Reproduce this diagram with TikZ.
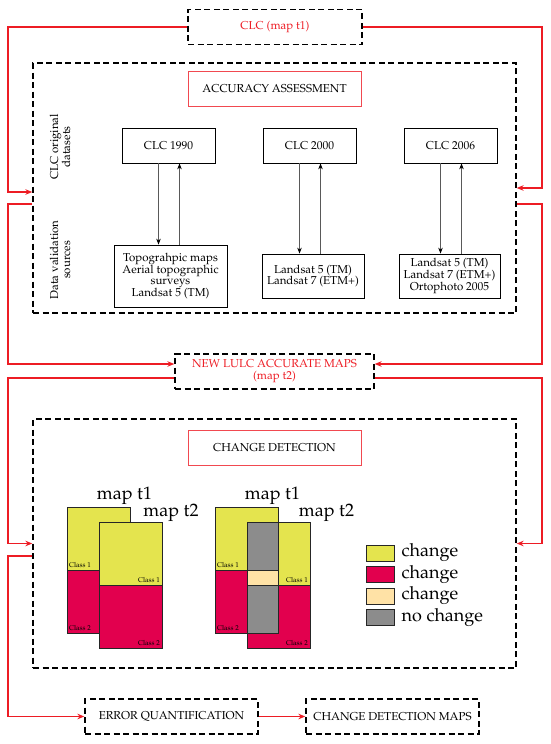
\documentclass[tikz,border=0pt]{standalone}
\usepackage[T1]{fontenc}
\usepackage{mathpazo}
\usepackage{tikz}
\usetikzlibrary{arrows.meta}
\definecolor{flowred}{RGB}{237,28,36}
\definecolor{mapyellow}{RGB}{228,228,78}
\definecolor{mapred}{RGB}{226,0,78}
\definecolor{mapbeige}{RGB}{255,226,166}
\definecolor{mapgray}{RGB}{140,140,140}

\begin{document}
\begin{tikzpicture}[x=1pt, y=-1pt, >={Stealth[length=7pt,width=5.5pt]},
  every node/.style={font=\fontsize{11.5}{12}\selectfont, inner sep=0pt},
  dbox/.style={draw, line width=1.3pt, dash pattern=on 6pt off 3.5pt, minimum height=35pt},
  rbox/.style={draw=flowred!80, line width=0.8pt, minimum width=173pt, minimum height=35pt},
  cbox/.style={draw, line width=0.7pt, minimum width=93pt, minimum height=35pt},
  vbox/.style={draw, line width=0.7pt, align=center, font=\fontsize{11.5}{11.7}\selectfont},
  flow/.style={flowred, line width=1.1pt},
  link/.style={black!65, line width=0.9pt, -{Stealth[black,length=6pt,width=4.5pt]}},
  mapline/.style={draw=black!85, line width=1pt},
  big/.style={font=\fontsize{18}{18}\selectfont},
  tiny/.style={font=\fontsize{7}{7}\selectfont}]
\useasboundingbox (0,0) rectangle (550,744);

\node[dbox, minimum width=174pt, text=flowred] (clc) at (275,27) {CLC (map t1)};
\node[dbox, minimum width=483pt, minimum height=250pt] (acc) at (274.5,188) {};
\node[rbox] (acctitle) at (274.5,88.5) {ACCURACY ASSESSMENT};
\node[rotate=90, align=center] (orig) at (60,147) {CLC original\\datasets};
\node[rotate=90, align=center] (valsrc) at (60,260) {Data validation\\sources};
\node[cbox] (clc90) at (168.5,145.5) {CLC 1990};
\node[cbox] (clc00) at (309.5,145.5) {CLC 2000};
\node[cbox] (clc06) at (450.5,145.5) {CLC 2006};
\node[vbox, minimum width=113pt, minimum height=62pt] (val90) at (170.5,276)
  {Topograhpic maps\\Aerial topographic\\surveys\\Landsat 5 (TM)};
\node[vbox, minimum width=102pt, minimum height=44pt] (val00) at (313,276)
  {Landsat 5 (TM)\\Landsat 7 (ETM+)};
\node[vbox, minimum width=101pt, minimum height=44pt] (val06) at (449.5,276)
  {Landsat 5 (TM)\\Landsat 7 (ETM+)\\Ortophoto 2005};
\foreach \a/\b in {clc90/val90, clc00/val00, clc06/val06} {
  \draw[link] ([xshift=-10pt]\a.south) -- ([xshift=-10pt]\a.south |- \b.north);
  \draw[link] ([xshift=11pt]\a.south |- \b.north) -- ([xshift=11pt]\a.south);
}

\node[dbox, minimum width=199pt, align=center, text=flowred,
  font=\fontsize{11.5}{11.8}\selectfont] (lulc) at (274.5,371.5) {NEW LULC ACCURATE MAPS\\(map t2)};
\node[dbox, minimum width=483pt, minimum height=249pt] (chg) at (274.5,543.5) {};
\node[rbox] (chgtitle) at (274.5,448) {CHANGE DETECTION};
\node[dbox, minimum width=173pt] (err) at (171.5,716.5) {ERROR QUANTIFICATION};
\node[dbox, minimum width=173pt] (cdm) at (392.5,716.5) {CHANGE DETECTION MAPS};

\draw[flow, ->] (clc.west) -- (8,27) |- ([yshift=-4pt]acc.west);
\draw[flow, ->] (clc.east) -- (542,27) |- (acc.east);
\draw[flow, ->] ([yshift=-16pt]acc.west) -- (8,204) |- ([yshift=7.5pt]lulc.west);
\draw[flow, ->] ([yshift=-16pt]acc.east) -- (542,204) |- ([yshift=7.5pt]lulc.east);
\draw[flow, ->] ([yshift=-6.5pt]lulc.west) -- (8,378) |- (chg.west);
\draw[flow, ->] ([yshift=-6.5pt]lulc.east) -- (542,378) |- (chg.east);
\draw[flow, ->] ([yshift=-12.5pt]chg.west) -- (8,556) |- (err.west);
\draw[flow, ->] (err) -- (cdm);

\foreach \dx in {0,148} {
  \draw[mapline, fill=mapyellow] (67+\dx,507) rectangle (130+\dx,570);
  \draw[mapline, fill=mapred] (67+\dx,570) rectangle (130+\dx,633);
  \draw[mapline, fill=mapyellow] (99+\dx,522) rectangle (162+\dx,585);
  \draw[mapline, fill=mapred] (99+\dx,585) rectangle (162+\dx,648);
}
\draw[mapline, fill=mapgray] (247,522) rectangle (278,570);
\draw[mapline, fill=mapbeige] (247,570) rectangle (278,585);
\draw[mapline, fill=mapgray] (247,585) rectangle (278,633);

\node[big] (mapa1) at (124.5,496) {map t1};
\node[big] (mapa2) at (171,513) {map t2};
\node[big] (mapb1) at (272.5,496) {map t1};
\node[big] (mapb2) at (326.5,513) {map t2};
\node[tiny, anchor=south west] (ca1) at (69,568) {Class 1};
\node[tiny, anchor=south west] (ca2) at (69,631) {Class 2};
\node[tiny, anchor=south east] (ca3) at (160,583) {Class 1};
\node[tiny, anchor=south east] (ca4) at (160,646) {Class 2};
\node[tiny, anchor=south west] (cb1) at (217,568) {Class 1};
\node[tiny, anchor=south west] (cb2) at (217,631) {Class 2};
\node[tiny, anchor=south east] (cb3) at (308,583) {Class 1};
\node[tiny, anchor=south east] (cb4) at (308,646) {Class 2};

\foreach \c/\t [count=\i] in {mapyellow/change, mapred/change, mapbeige/change, mapgray/no change} {
  \node[draw=black!85, line width=1pt, fill=\c, minimum width=28pt, minimum height=16pt]
    (key\i) at (380,531.5+21.5*\i) {};
  \node[big, anchor=west] (lab\i) at ([xshift=7pt]key\i.east) {\t};
}
\end{tikzpicture}
\end{document}
